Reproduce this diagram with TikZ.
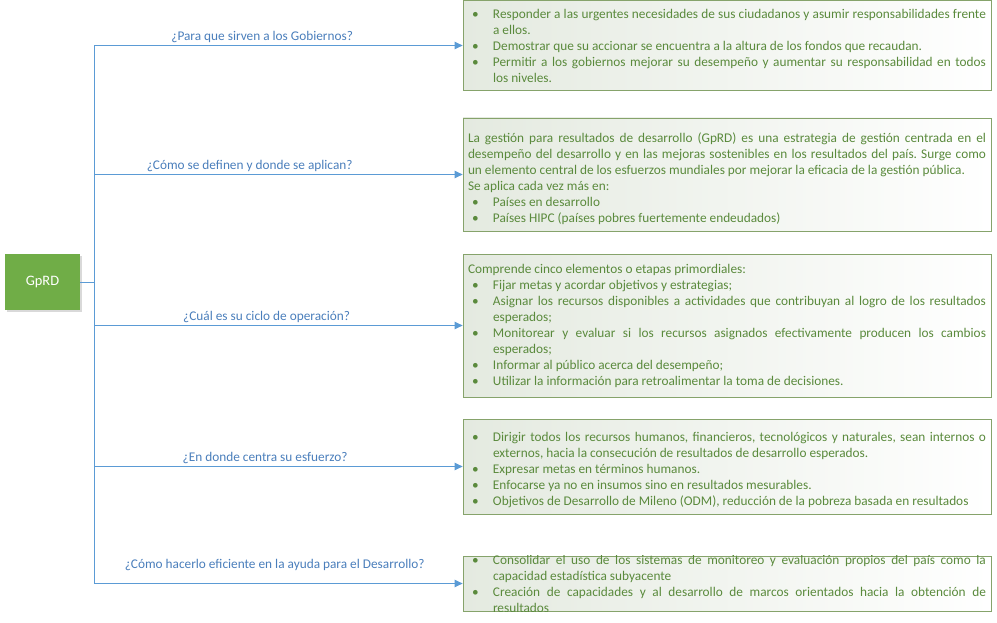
\documentclass[tikz,border=0pt]{standalone}
\usepackage{fontspec}
\setmainfont{Carlito}
\usetikzlibrary{arrows.meta,shadows}
\definecolor{lineblue}{HTML}{5B9BD5}
\definecolor{labelblue}{HTML}{4A7EBB}
\definecolor{topicgreen}{HTML}{70AD47}
\definecolor{boxgreen}{HTML}{86A36B}
\definecolor{boxfill}{HTML}{E4EAE0}
\definecolor{textgreen}{HTML}{5A8A3C}
%bullet item with hanging indent
\newcommand{\bitem}{\par\hangindent=25pt\hangafter=1\noindent\makebox[25pt][l]{\hspace{4pt}•}}
\begin{document}
\tolerance=9999
\emergencystretch=10pt
\hyphenpenalty=10000
\exhyphenpenalty=10000
\frenchspacing
\begin{tikzpicture}[x=1pt,y=-1pt,
    conn/.style={draw=lineblue,line width=1pt,-{Triangle[length=8pt,width=7.5pt]}},
    lbl/.style={text=labelblue,font=\fontsize{13.3}{15}\selectfont,above,inner sep=2.5pt},
    answertext/.style={minimum width=528pt,text width=518pt,inner sep=5pt,align=justify,text=textgreen,
        font=\fontsize{13.3}{16}\selectfont},
    answer/.style={answertext,draw=boxgreen,line width=0.8pt,left color=boxfill,right color=white},
    topic/.style={fill=topicgreen,text=white,minimum width=75pt,minimum height=56pt,
        font=\fontsize{14.4}{16}\selectfont,
        drop shadow={shadow xshift=1.5pt,shadow yshift=-1.5pt,opacity=0.3}}]
\useasboundingbox (0,0) rectangle (997,623);
%Root of the tree
    \node[topic] (gprd) at (42.5,282) {GpRD};
%Answer boxes
    \node[answer,inner ysep=2pt,minimum height=90pt] (b1) at (727,45.5) {%
        \bitem Responder a las urgentes necesidades de sus ciudadanos y asumir responsabilidades frente a ellos.
        \bitem Demostrar que su accionar se encuentra a la altura de los fondos que recaudan.
        \bitem Permitir a los gobiernos mejorar su desempeño y aumentar su responsabilidad en todos\linebreak los niveles.\par\vspace{6pt}};
    \node[answer,minimum height=113pt] (b2) at (727,174.5) {%
        \noindent La gestión para resultados de desarrollo (GpRD) es una estrategia de gestión centrada en el\linebreak desempeño del desarrollo y en las mejoras sostenibles en los resultados del país. Surge como\linebreak un elemento central de los esfuerzos mundiales por mejorar la eficacia de la gestión pública.
        \par\noindent Se aplica cada vez más en:
        \bitem Países en desarrollo
        \bitem Países HIPC (países pobres fuertemente endeudados)\par\vspace{-8pt}};
    \node[answer,minimum height=143pt] (b3) at (727,325.5) {%
        \noindent Comprende cinco elementos o etapas primordiales:
        \bitem Fijar metas y acordar objetivos y estrategias;
        \bitem Asignar los recursos disponibles a actividades que contribuyan al logro de los resultados esperados;
        \bitem Monitorear y evaluar si los recursos asignados efectivamente producen los cambios esperados;
        \bitem Informar al público acerca del desempeño;
        \bitem Utilizar la información para retroalimentar la toma de decisiones.\par};
    \node[answer,minimum height=95pt] (b4) at (727,466.5) {%
        \bitem Dirigir todos los recursos humanos, financieros, tecnológicos y naturales, sean internos o externos, hacia la consecución de resultados de desarrollo esperados.
        \bitem Expresar metas en términos humanos.
        \bitem Enfocarse ya no en insumos sino en resultados mesurables.
        \bitem Objetivos de Desarrollo de Mileno (ODM), reducción de la pobreza basada en resultados\par};
%Last box is too small for its text, so the text is clipped
    \node[answer,minimum height=55pt] (b5) at (727,583.5) {};
    \begin{scope}
        \clip (b5.north west) rectangle (b5.south east);
        \node[answertext] (t5) at ([yshift=3pt]b5.center) {%
            \bitem Consolidar el uso de los sistemas de monitoreo y evaluación propios del país como la\linebreak capacidad estadística subyacente
            \bitem Creación de capacidades y al desarrollo de marcos orientados hacia la obtención de\linebreak resultados\par};
    \end{scope}
%Connectors with the questions
    \draw[conn] (gprd.east) -- ++(14,0) |- node[lbl,pos=.728] {¿Para que sirven a los Gobiernos?} (b1.west);
    \draw[conn] (gprd.east) -- ++(14,0) |- node[lbl,pos=.711] {¿Cómo se definen y donde se aplican?} (b2.west);
    \draw[conn] (gprd.east) -- ++(14,0) |- node[lbl,pos=.734] {¿Cuál es su ciclo de operación?} (b3.west);
    \draw[conn] (gprd.east) -- ++(14,0) |- node[lbl,pos=.732] {¿En donde centra su esfuerzo?} (b4.west);
    \draw[conn] (gprd.east) -- ++(14,0) |- node[lbl,pos=.745,above=10pt] {¿Cómo hacerlo eficiente en la ayuda para el Desarrollo?} (b5.west);
\end{tikzpicture}
\end{document}
